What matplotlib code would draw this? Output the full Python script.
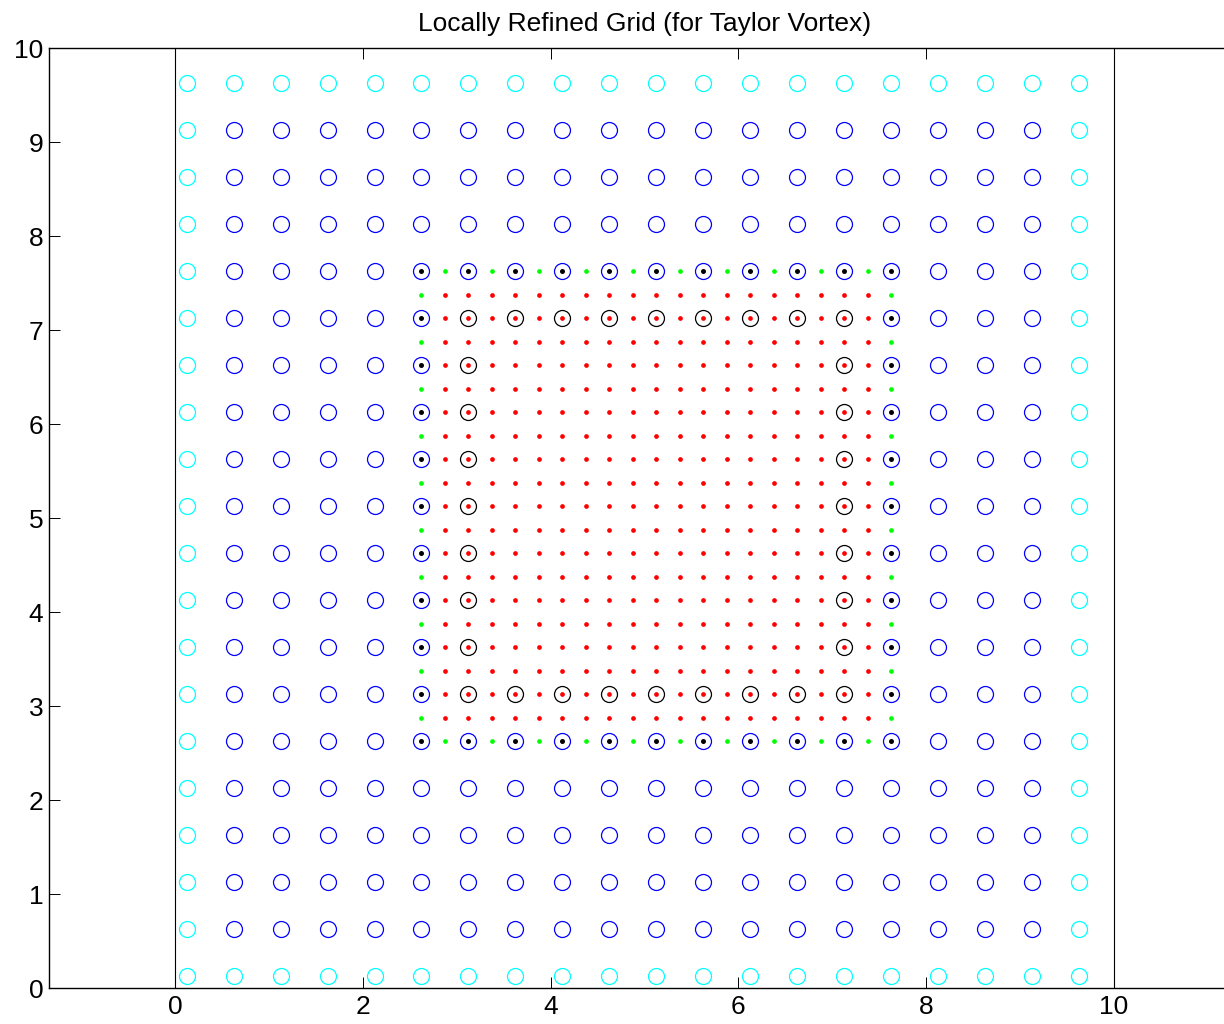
import matplotlib
matplotlib.use('Agg')
import matplotlib.pyplot as plt

# coordonnées de la grille grossière (pas 0.5)
coarse_x = [0.125, 0.625, 1.125, 1.625, 2.125, 2.625, 3.125, 3.625, 4.125, 4.625,
            5.125, 5.625, 6.125, 6.625, 7.125, 7.625, 8.125, 8.625, 9.125, 9.625]
coarse_y = coarse_x

# coordonnées de la grille fine (pas 0.25) dans la zone raffinée
fine_x = [2.625, 2.875, 3.125, 3.375, 3.625, 3.875, 4.125, 4.375, 4.625, 4.875, 5.125,
          5.375, 5.625, 5.875, 6.125, 6.375, 6.625, 6.875, 7.125, 7.375, 7.625]
fine_y = fine_x

# bornes de la zone raffinée et du domaine
ref_lo, ref_hi = 2.625, 7.625
inner_lo, inner_hi = 3.125, 7.125
domain = [0, 10]

xticks = [0, 2, 4, 6, 8, 10]
yticks = [0, 1, 2, 3, 4, 5, 6, 7, 8, 9, 10]
title = "Locally Refined Grid (for Taylor Vortex)"

plt.rcParams['font.family'] = ['Liberation Sans', 'DejaVu Sans']

## tri des points
ghost, coarse, black_dot, black_circ = [], [], [], []
for y in coarse_y:
    for x in coarse_x:
        if x in (coarse_x[0], coarse_x[-1]) or y in (coarse_y[0], coarse_y[-1]):
            ghost.append((x, y))
            continue
        inside_ref = ref_lo <= x <= ref_hi and ref_lo <= y <= ref_hi
        inside_inner = inner_lo <= x <= inner_hi and inner_lo <= y <= inner_hi
        if not inside_inner:
            coarse.append((x, y))
        if inside_ref and not inside_inner:
            black_dot.append((x, y))
        if inside_inner and (x in (inner_lo, inner_hi) or y in (inner_lo, inner_hi)):
            black_circ.append((x, y))

red, green = [], []
for y in fine_y:
    for x in fine_x:
        on_edge = x in (ref_lo, ref_hi) or y in (ref_lo, ref_hi)
        if not on_edge:
            red.append((x, y))
        elif (x, y) not in black_dot:
            green.append((x, y))

def xs(pts): return [p[0] for p in pts]
def ys(pts): return [p[1] for p in pts]

fig = plt.figure(figsize=(12.24, 10.24), dpi=100)
ax = fig.add_axes([49 / 1224, 36 / 1024, 1191 / 1224, 940 / 1024])

ms_c = 11.5
ax.plot(xs(ghost), ys(ghost), 'o', mfc='none', mec=(0, 1, 1), ms=ms_c, mew=0.9)
ax.plot(xs(coarse), ys(coarse), 'o', mfc='none', mec=(0, 0, 1), ms=ms_c, mew=0.9)
ax.plot(xs(red), ys(red), 'o', color=(1, 0, 0), ms=3.4, mew=0)
ax.plot(xs(green), ys(green), 'o', color=(0, 1, 0), ms=3.4, mew=0)
ax.plot(xs(black_dot), ys(black_dot), 'o', color='k', ms=3.6, mew=0)
ax.plot(xs(black_circ), ys(black_circ), 'o', mfc='none', mec='k', ms=ms_c, mew=0.9)

# contour du domaine
ax.plot([domain[0], domain[0]], [domain[0], domain[1]], 'k-', lw=0.8)
ax.plot([domain[1], domain[1]], [domain[0], domain[1]], 'k-', lw=0.8)

ax.set_xlim(-1.342, 11.342)
ax.set_ylim(0, 10)
ax.set_xticks(xticks)
ax.set_yticks(yticks)
ax.tick_params(direction='in', length=8, width=0.7, labelsize=19,
               top=True, right=False)
ax.tick_params(axis='x', pad=5)
ax.tick_params(axis='y', pad=4)
ax.spines['right'].set_visible(False)
for s in ax.spines.values():
    s.set_linewidth(1.0)
ax.set_title(title, fontsize=19, pad=12.5)

fig.savefig('out.png', dpi=100)
